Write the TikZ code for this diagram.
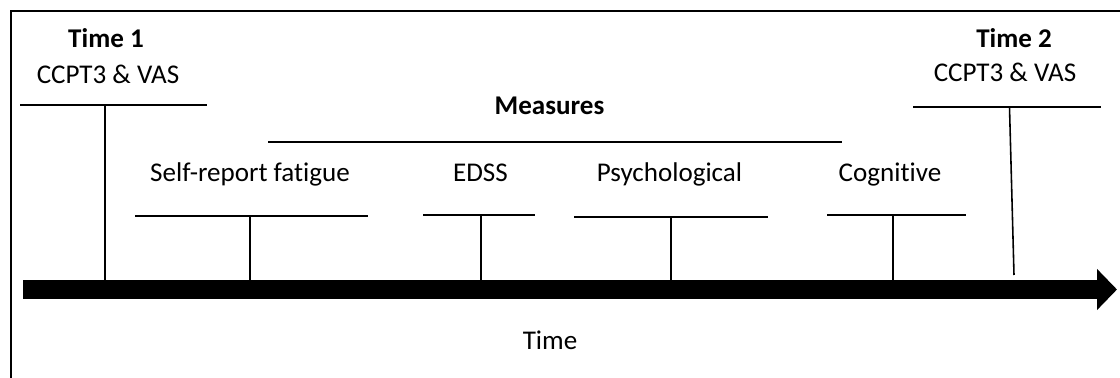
\documentclass[tikz,border=0pt]{standalone}
\usepackage{fontspec}
\setmainfont{Carlito}[RawFeature={-liga;-clig;-calt;-dlig}]
\usetikzlibrary{arrows.meta,positioning}
\tikzset{lab/.style={font=\fontsize{15.4}{18}\selectfont,inner sep=0pt,anchor=base},head/.style={lab,font=\fontsize{15.4}{18}\selectfont\bfseries},bar/.style={line width=1.1pt},tick/.style={line width=0.9pt},frame/.style={line width=1.1pt},axis/.style={line width=0.38cm,-{Triangle[length=0.4cm,width=0.8cm]}}}

\begin{document}
\begin{tikzpicture}[x=0.02cm,y=-0.02cm]
\path[use as bounding box] (0,0) rectangle (1120,378);
\draw[frame] (11,378) -- (11,11) -- (1120,11);
% time line
\coordinate (ax0) at (23,289.5);
\coordinate (ax1) at (1117,289.5);
\draw[axis] (ax0) -- (ax1);
\node[lab] (time) at (550,350) {Time};
% the two test points
\node[head] (t1) at (106,48) {Time 1};
\node[lab] (t1m) at (108,84) {CCPT3 \& VAS};
\coordinate (t1L) at (20,105); \coordinate (t1R) at (207,105);
\draw[bar] (t1L) -- (t1R);
\coordinate (t1T) at (105,105); \coordinate (t1A) at (105,280);
\draw[tick] (t1T) -- (t1A);
\node[head] (t2) at (1014,48) {Time 2};
\node[lab] (t2m) at (1005,82) {CCPT3 \& VAS};
\coordinate (t2L) at (913,107); \coordinate (t2R) at (1101,107);
\draw[bar] (t2L) -- (t2R);
\coordinate (t2T) at (1009.5,107); \coordinate (t2A) at (1014,275);
\draw[tick] (t2T) -- (t2A);
% measures in between
\node[head] (meas) at (549.5,115) {Measures};
\coordinate (measL) at (268,142); \coordinate (measR) at (842,142);
\draw[bar] (measL) -- (measR);
\foreach \name/\txt/\xx/\l/\r/\yy/\tk in {srf/Self-report fatigue/250/135/368/216/250,edss/EDSS/480.5/423/535/215/481,psy/Psychological/669.5/574/768/217/671,cog/Cognitive/890/827/966/215/893}{
\node[lab] (\name) at (\xx,182) {\txt};
\coordinate (\name L) at (\l,\yy); \coordinate (\name R) at (\r,\yy);
\draw[bar] (\name L) -- (\name R);
\coordinate (\name T) at (\tk,\yy); \coordinate (\name A) at (\tk,280);
\draw[tick] (\name T) -- (\name A);
}
\end{tikzpicture}
\end{document}
